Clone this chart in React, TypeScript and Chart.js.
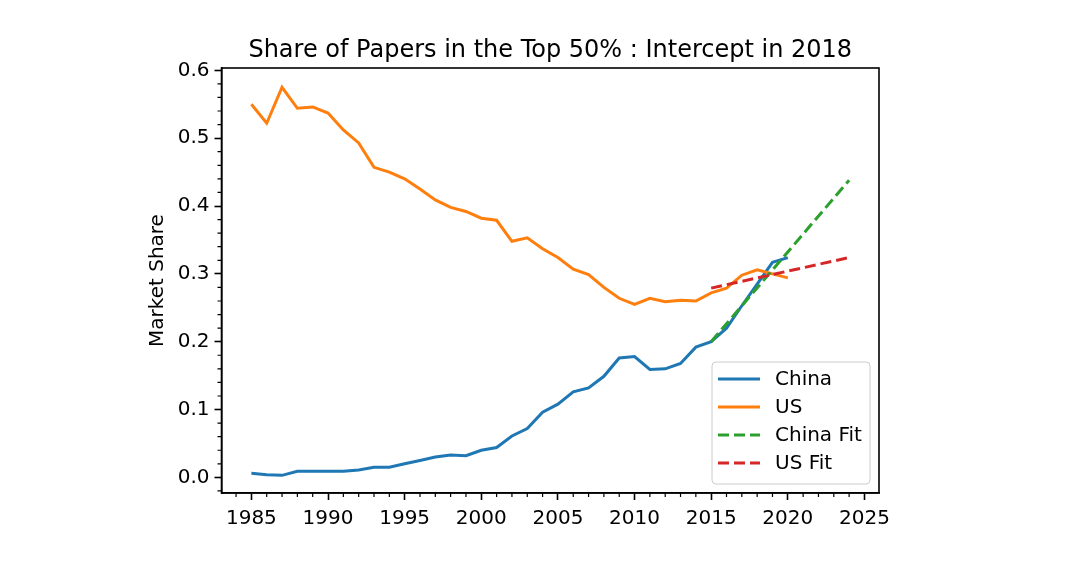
import { useEffect, useRef } from 'react';
import { Chart, registerables, Plugin } from 'chart.js';

Chart.register(...registerables);

// data
const years = [
  1985, 1986, 1987, 1988, 1989, 1990, 1991, 1992, 1993, 1994,
  1995, 1996, 1997, 1998, 1999, 2000, 2001, 2002, 2003, 2004,
  2005, 2006, 2007, 2008, 2009, 2010, 2011, 2012, 2013, 2014,
  2015, 2016, 2017, 2018, 2019, 2020,
];
const chinaShare = [
  0.006, 0.004, 0.003, 0.009, 0.009, 0.009, 0.009, 0.011, 0.015, 0.015,
  0.020, 0.025, 0.030, 0.033, 0.032, 0.040, 0.044, 0.061, 0.072, 0.096,
  0.108, 0.126, 0.132, 0.149, 0.176, 0.178, 0.159, 0.160, 0.168, 0.192,
  0.200, 0.220, 0.253, 0.285, 0.317, 0.324,
];
const usShare = [
  0.550, 0.522, 0.575, 0.544, 0.546, 0.537, 0.512, 0.493, 0.457, 0.450,
  0.440, 0.425, 0.409, 0.398, 0.392, 0.382, 0.379, 0.348, 0.353, 0.337,
  0.324, 0.307, 0.299, 0.280, 0.264, 0.255, 0.264, 0.259, 0.261, 0.260,
  0.272, 0.279, 0.298, 0.306, 0.300, 0.294,
];
const fitYears = [2015, 2024];
const chinaFit = [0.200, 0.438];
const usFit = [0.279, 0.324];

const xTickStep = 5;
const yTickStep = 0.1;

const FONT = '"DejaVu Sans", sans-serif';
const DASH = [11, 5];

const toPoints = (xs: number[], ys: number[]) => xs.map((x, i) => ({ x, y: ys[i] }));

// frame, minor ticks and an in-axes legend, matplotlib style
const axesExtras: Plugin<'line'> = {
  id: 'axesExtras',
  afterDraw(chart) {
    const { ctx, chartArea: a, scales } = chart;
    const xs = scales.x;
    const ys = scales.y;
    ctx.save();
    ctx.strokeStyle = '#000';

    // minor ticks
    ctx.lineWidth = 1.2;
    ctx.beginPath();
    for (let yr = Math.ceil(xs.min); yr <= xs.max; yr++) {
      if (yr % 5 === 0) continue;
      const px = xs.getPixelForValue(yr);
      ctx.moveTo(px, a.bottom);
      ctx.lineTo(px, a.bottom + 4);
    }
    for (let k = Math.ceil(ys.min / 0.02); k * 0.02 <= ys.max; k++) {
      if (k % 5 === 0) continue;
      const py = ys.getPixelForValue(k * 0.02);
      ctx.moveTo(a.left, py);
      ctx.lineTo(a.left - 4, py);
    }
    ctx.stroke();

    // frame
    ctx.lineWidth = 1.6;
    ctx.strokeRect(a.left, a.top, a.right - a.left, a.bottom - a.top);

    // legend
    const bx = a.right - 167;
    const by = a.bottom - 131;
    const bw = 158;
    const bh = 122;
    ctx.beginPath();
    ctx.roundRect(bx, by, bw, bh, 4);
    ctx.fillStyle = 'rgba(255,255,255,0.8)';
    ctx.fill();
    ctx.strokeStyle = '#cccccc';
    ctx.lineWidth = 1;
    ctx.stroke();

    ctx.font = `20px ${FONT}`;
    ctx.textBaseline = 'middle';
    chart.data.datasets.forEach((ds, i) => {
      const cy = by + 17 + i * 28;
      ctx.strokeStyle = ds.borderColor as string;
      ctx.lineWidth = 3;
      ctx.setLineDash((ds.borderDash as number[]) || []);
      ctx.beginPath();
      ctx.moveTo(bx + 6, cy);
      ctx.lineTo(bx + 48, cy);
      ctx.stroke();
      ctx.setLineDash([]);
      ctx.fillStyle = '#000';
      ctx.fillText(ds.label || '', bx + 63, cy + 1);
    });
    ctx.restore();
  },
};

export default function App() {
  const chartRef = useRef<HTMLCanvasElement>(null);
  const chartInstance = useRef<Chart<'line'> | null>(null);

  useEffect(() => {
    document.body.style.margin = '0';
    if (!chartRef.current) return;

    if (chartInstance.current) {
      chartInstance.current.destroy();
    }

    const ctx = chartRef.current.getContext('2d');
    if (!ctx) return;

    chartInstance.current = new Chart(ctx, {
      type: 'line',
      data: {
        datasets: [
          {
            label: 'China',
            data: toPoints(years, chinaShare),
            borderColor: '#1f77b4',
            borderWidth: 3,
            pointRadius: 0,
            tension: 0,
            order: 3,
          },
          {
            label: 'US',
            data: toPoints(years, usShare),
            borderColor: '#ff7f0e',
            borderWidth: 3,
            pointRadius: 0,
            tension: 0,
            order: 2,
          },
          {
            label: 'China Fit',
            data: toPoints(fitYears, chinaFit),
            borderColor: '#2ca02c',
            borderWidth: 3,
            borderDash: DASH,
            pointRadius: 0,
            order: 1,
          },
          {
            label: 'US Fit',
            data: toPoints(fitYears, usFit),
            borderColor: '#d62728',
            borderWidth: 3,
            borderDash: DASH,
            pointRadius: 0,
            order: 0,
          },
        ],
      },
      options: {
        responsive: false,
        animation: false,
        layout: {
          padding: { left: 142, right: 201, top: 0, bottom: 0 },
        },
        plugins: {
          legend: { display: false },
          tooltip: { enabled: false },
          title: {
            display: true,
            fullSize: false,
            text: 'Share of Papers in the Top 50% : Intercept in 2018',
            color: '#000',
            font: { family: FONT, size: 24, weight: 'normal' },
            padding: { top: 36, bottom: 3.2 },
          },
        },
        scales: {
          x: {
            type: 'linear',
            min: 1983.05,
            max: 2025.95,
            afterFit: (scale) => {
              scale.height = 71;
            },
            grid: {
              drawOnChartArea: false,
              drawTicks: true,
              tickLength: 7,
              tickWidth: 1.6,
              color: '#000',
            },
            border: { display: true, color: '#000', width: 1.6 },
            ticks: {
              stepSize: xTickStep,
              includeBounds: false,
              autoSkip: false,
              maxRotation: 0,
              padding: 7,
              color: '#000',
              font: { family: FONT, size: 20 },
              callback: (v) => String(v),
            },
          },
          y: {
            type: 'linear',
            min: -0.023,
            max: 0.6034,
            afterFit: (scale) => {
              scale.width = 79.5;
            },
            grid: {
              drawOnChartArea: false,
              drawTicks: true,
              tickLength: 7,
              tickWidth: 1.6,
              color: '#000',
            },
            border: { display: true, color: '#000', width: 1.6 },
            title: {
              display: true,
              text: 'Market Share',
              color: '#000',
              font: { family: FONT, size: 20 },
            },
            ticks: {
              stepSize: yTickStep,
              includeBounds: false,
              padding: 5,
              color: '#000',
              font: { family: FONT, size: 20 },
              callback: (v) => Number(v).toFixed(1),
            },
          },
        },
      },
      plugins: [axesExtras],
    });

    return () => {
      if (chartInstance.current) {
        chartInstance.current.destroy();
        chartInstance.current = null;
      }
    };
  }, []);

  return (
    <div style={{ width: 1080, height: 564, background: '#fff' }}>
      <canvas ref={chartRef} width={1080} height={564}></canvas>
    </div>
  );
}
